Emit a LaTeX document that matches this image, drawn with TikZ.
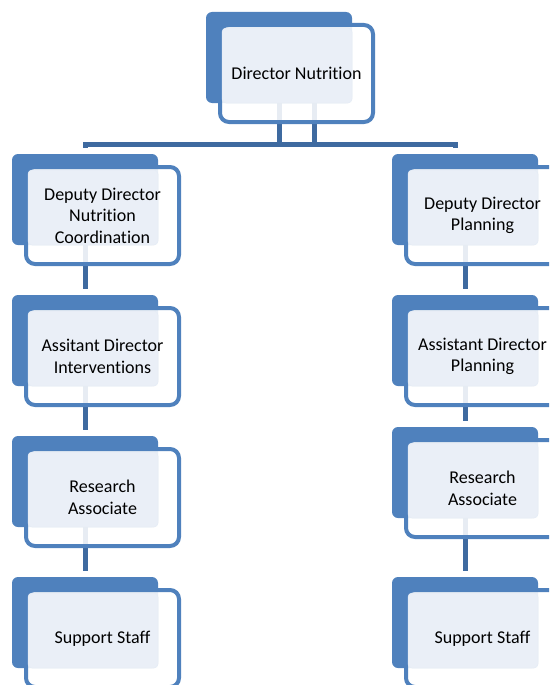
\documentclass[tikz,border=0pt]{standalone}
\usepackage{fontspec}
\setmainfont{Carlito}[RawFeature={-liga}]
\usetikzlibrary{backgrounds}
\definecolor{boxblue}{RGB}{79,129,189}
\definecolor{linkblue}{RGB}{62,106,160}
\definecolor{facefill}{RGB}{234,239,247}

\begin{document}
\begin{tikzpicture}[x=1pt, y=-1pt,
        every node/.style={font=\fontsize{18}{21.5}\selectfont, align=center},
        backbox/.style={fill=boxblue, rounded corners=6pt, minimum width=146pt, minimum height=91pt, inner sep=0pt},
        rimbox/.style={draw=boxblue, line width=4pt, fill=white, fill opacity=.88, rounded corners=9pt, minimum width=153pt, minimum height=97pt, inner sep=0pt},
        facebox/.style={fill=facefill, draw=boxblue!15, line width=.5pt, rounded corners=4pt, minimum width=130pt, minimum height=75pt, inner sep=0pt},
        boxtext/.style={inner sep=0pt},
        link/.style={draw=linkblue, line width=5pt},
        unit/.pic={
            \node[backbox] (-back) at (73,45.5)   {};
            \node[rimbox]  (-rim)  at (90.5,61.5) {};
            \node[facebox] (-face) at (81,53.5)   {};
            \node[boxtext] (-text) at (90.5,61.5) {#1};
        }
    ]
        \clip (0,0) rectangle (549,685);

        \pic (dir) at (206,12)  {unit={Director Nutrition}};

        \pic (ddn) at (12,154)  {unit={Deputy Director\\Nutrition\\Coordination}};
        \pic (adi) at (12,295)  {unit={Assitant Director\\Interventions}};
        \pic (ran) at (12,436)  {unit={Research\\Associate}};
        \pic (ssn) at (12,577)  {unit={Support Staff}};

        \pic (ddp) at (392,154) {unit={Deputy Director\\Planning}};
        \pic (adp) at (392,295) {unit={Assistant Director\\Planning}};
        \pic (rap) at (392,427) {unit={Research\\Associate}};
        \pic (ssp) at (392,577) {unit={Support Staff}};

        \coordinate (bus) at (296.5,144);

        \begin{scope}[on background layer]
            \draw[link] ([yshift=6pt]ddn-back.north) |- (bus) -| ([xshift=-10pt, yshift=6pt]ddp-back.north);
            \draw[link] ([xshift=-17.5pt]dir-rim.center) -- ([xshift=-17.5pt]dir-rim.center |- bus);
            \draw[link] ([xshift=17.5pt]dir-rim.center)  -- ([xshift=17.5pt]dir-rim.center |- bus);

            \draw[link] (ddn-back.south) -- ([yshift=6pt]adi-back.north);
            \draw[link] (adi-back.south) -- ([yshift=6pt]ran-back.north);
            \draw[link] (ran-back.south) -- ([yshift=6pt]ssn-back.north);

            \draw[link] (ddp-back.south) -- ([yshift=6pt]adp-back.north);
            \draw[link] (adp-back.south) -- ([yshift=6pt]rap-back.north);
            \draw[link] (rap-back.south) -- ([yshift=6pt]ssp-back.north);
        \end{scope}
    \end{tikzpicture}
\end{document}
